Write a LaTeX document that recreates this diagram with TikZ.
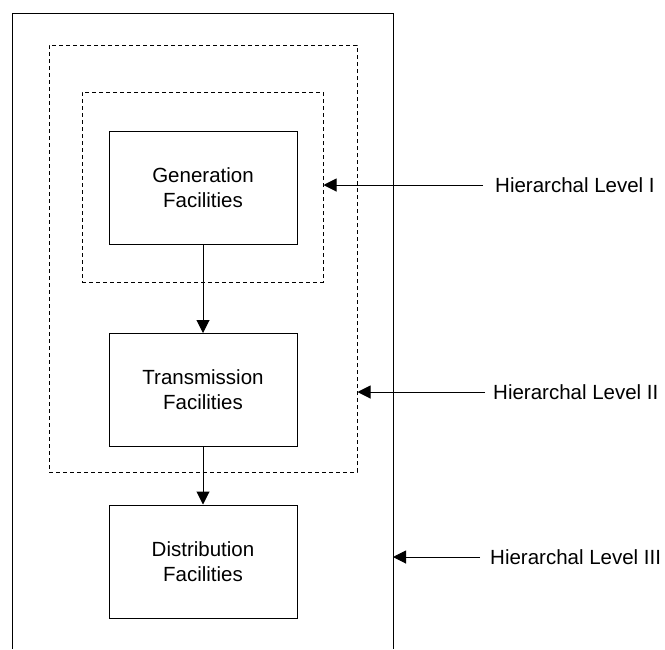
\documentclass[tikz,border=0pt]{standalone}
\usepackage{fontspec}
\setmainfont{Liberation Sans}
\usetikzlibrary{arrows.meta}

\tikzset{
  facility/.style = {draw, line width=1pt, rectangle, minimum width=188pt, minimum height=113pt,
                     align=center, font=\fontsize{20.5}{25}\selectfont},
  levelbox/.style = {draw, line width=1pt, dash pattern=on 4pt off 3pt, rectangle, inner sep=0pt},
  levellabel/.style = {anchor=west, inner sep=0pt, font=\fontsize{20.5}{25}\selectfont},
  flow/.style = {line width=1pt, -{Triangle[length=13pt,width=13pt]}}
}

\begin{document}
\begin{tikzpicture}[x=1pt, y=-1pt]
            \useasboundingbox (0,0) rectangle (665,649);
            \draw[line width=1pt] (12,649) -- (12,13) -- (393,13) -- (393,649);
            \node[levelbox, minimum width=308pt, minimum height=427pt] (leveltwo) at (203,258.5) {};
            \node[levelbox, minimum width=241pt, minimum height=190pt] (levelone) at (202.5,187) {};
            \node[facility] (gen) at (203,187.5) {Generation\\Facilities};
            \node[facility] (trans) at (203,390) {Transmission\\Facilities};
            \node[facility] (dist) at (203,561.5) {Distribution\\Facilities};
            \draw[flow] (gen) -- (trans);
            \draw[flow] (trans) -- (dist);
            \node[levellabel] (lblone) at (495,185) {Hierarchal Level I};
            \node[levellabel] (lbltwo) at (493,392) {Hierarchal Level II};
            \node[levellabel] (lblthree) at (490,557) {Hierarchal Level III};
            \draw[flow] ([xshift=-12pt]lblone.west) -- (lblone.west -| levelone.east);
            \draw[flow] ([xshift=-8pt]lbltwo.west) -- (lbltwo.west -| leveltwo.east);
            \draw[flow] ([xshift=-10pt]lblthree.west) -- (393,557);
        \end{tikzpicture}
\end{document}
